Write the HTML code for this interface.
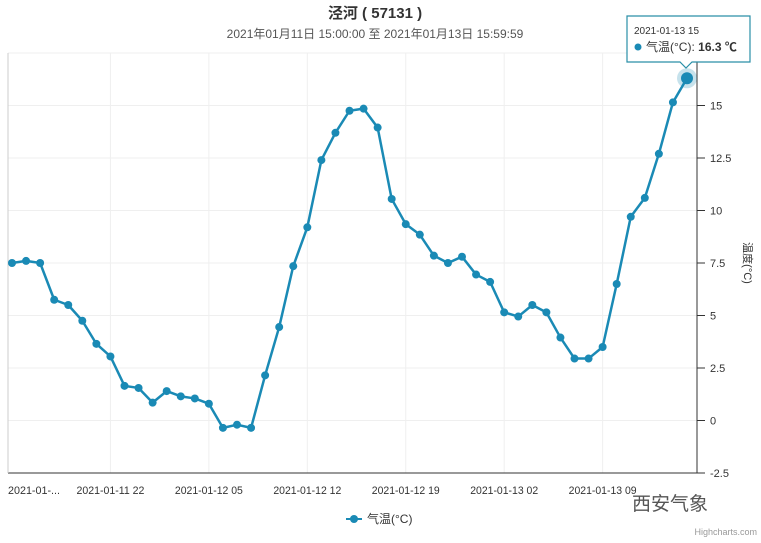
<!DOCTYPE html>
<html><head><meta charset="utf-8"><style>
body{margin:0;background:#fff;width:761px;height:538px;overflow:hidden;font-family:"Liberation Sans","Noto Sans CJK SC",sans-serif}
</style></head><body>
<svg id="c" width="761" height="538" xmlns="http://www.w3.org/2000/svg">
<text x="375" y="18" text-anchor="middle" font-size="15" font-weight="bold" fill="#333" font-family="Liberation Sans, Noto Sans CJK SC, sans-serif">泾河 ( 57131 )</text>
<text x="375" y="38" text-anchor="middle" font-size="12" fill="#555" font-family="Liberation Sans, Noto Sans CJK SC, sans-serif">2021年01月11日 15:00:00 至 2021年01月13日 15:59:59</text>
<g id="grid"></g><g id="axes"></g><g id="series"></g>
<text transform="translate(744,263) rotate(90)" text-anchor="middle" font-size="11" fill="#333" font-family="Liberation Sans, Noto Sans CJK SC, sans-serif">温度(°C)</text>
<g>
<line x1="346" y1="519" x2="362" y2="519" stroke="#1a8ab5" stroke-width="2"/>
<circle cx="354" cy="519" r="4" fill="#1a8ab5"/>
<text x="367" y="523" font-size="12" fill="#333" font-family="Liberation Sans, Noto Sans CJK SC, sans-serif">气温(°C)</text>
</g>
<text x="632" y="510" font-size="19" fill="#555" font-family="Noto Sans CJK SC, sans-serif">西安气象</text>
<text x="757" y="535" text-anchor="end" font-size="9" fill="#999">Highcharts.com</text>
<g>
<path d="M627,16 H750 V62 H692 L686,68 L680,62 H627 Z" fill="#fff" stroke="#2a8fa8" stroke-width="1.2"/>
<text x="634" y="34" font-size="10" fill="#333">2021-01-13 15</text>
<circle cx="638" cy="47" r="3.5" fill="#1a8ab5"/>
<text x="646" y="51" font-size="12" fill="#333" font-family="Liberation Sans, Noto Sans CJK SC, sans-serif">气温(°C): <tspan font-weight="bold">16.3 ℃</tspan></text>
</g>
</svg>
<script>
const categories=["2021-01-11 15","16","17","18","19","20","21","2021-01-11 22","23","00","01","02","03","04","2021-01-12 05","06","07","08","09","10","11","2021-01-12 12","13","14","15","16","17","18","2021-01-12 19","20","21","22","23","00","01","2021-01-13 02","03","04","05","06","07","08","2021-01-13 09","10","11","12","13","14","2021-01-13 15"];
const temps=[7.5,7.6,7.5,5.75,5.5,4.75,3.65,3.05,1.65,1.55,0.85,1.4,1.15,1.05,0.8,-0.35,-0.2,-0.35,2.15,4.45,7.35,9.2,12.4,13.7,14.75,14.85,13.95,10.55,9.35,8.85,7.85,7.5,7.8,6.95,6.6,5.15,4.95,5.5,5.15,3.95,2.95,2.95,3.5,6.5,9.7,10.6,12.7,15.15,16.3];
const yTicks=[-2.5,0,2.5,5,7.5,10,12.5,15,17.5];
const xLabels=["2021-01-...","2021-01-11 22","2021-01-12 05","2021-01-12 12","2021-01-12 19","2021-01-13 02","2021-01-13 09"];
const NS="http://www.w3.org/2000/svg";
const L=8,R=697,T=53,B=473,ymin=-2.5,ymax=17.5;
const y=v=>B-(v-ymin)/(ymax-ymin)*(B-T);
const x=i=>12+i*(687-12)/(temps.length-1);
function mk(t,a,p){const e=document.createElementNS(NS,t);for(const k in a)e.setAttribute(k,a[k]);p.appendChild(e);return e;}
const grid=document.getElementById('grid'),axes=document.getElementById('axes'),ser=document.getElementById('series');
yTicks.forEach(v=>{
 const g=mk('line',{x1:L,x2:R,y1:y(v),y2:y(v),stroke:'#efefef'},grid);
 
 
 mk('line',{x1:R,x2:R+8,y1:y(v),y2:y(v),stroke:'#333'},axes);
 const t=mk('text',{x:R+13,y:y(v)+4,'font-size':11,fill:'#333'},axes);
 t.textContent=String(v);
 
 
});
for(let k=1;k*7<temps.length;k++){const gx=x(k*7);
 const g=mk('line',{x1:gx,x2:gx,y1:T,y2:B,stroke:'#efefef'},grid);
 
 }
mk('line',{x1:L,x2:R,y1:B,y2:B,stroke:'#333'},axes);
mk('line',{x1:R,x2:R,y1:T,y2:B,stroke:'#333'},axes);
mk('line',{x1:L,x2:L,y1:T,y2:B,stroke:'#ccc'},axes);
xLabels.forEach((s,k)=>{
 const t=mk('text',{x:k===0?8:x(k*7),y:494,'font-size':11,fill:'#333','text-anchor':k===0?'start':'middle',textLength:k===0?52:68,lengthAdjust:'spacingAndGlyphs'},axes);
 t.textContent=s;
 
 
});
const pts=temps.map((v,i)=>x(i)+','+y(v)).join(' ');
const line=mk('polyline',{points:pts,fill:'none',stroke:'#1a8ab5','stroke-width':2.5,'stroke-linejoin':'round'},ser);


temps.forEach((v,i)=>{
 const last=i===temps.length-1;
 if(last){mk('circle',{cx:x(i),cy:y(v),r:10,fill:'#1a8ab5','fill-opacity':0.25},ser);}
 const c=mk('circle',{cx:x(i),cy:y(v),r:last?6:4,fill:'#1a8ab5'},ser);
 
 
});
</script>
</body></html>
